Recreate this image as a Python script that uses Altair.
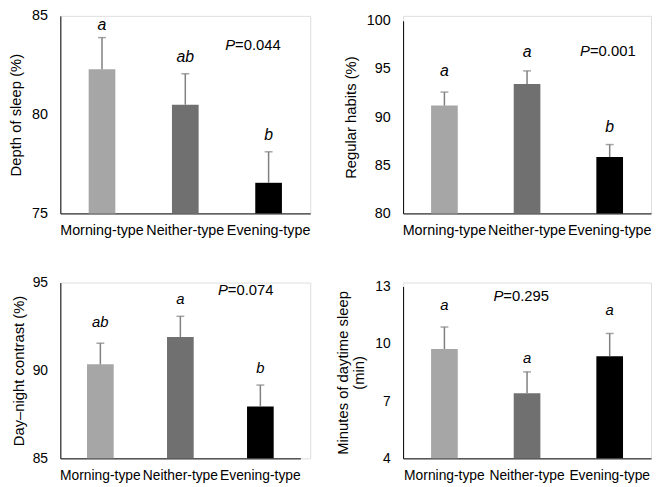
import altair as alt
import pandas as pd

groups = ["Morning-type", "Neither-type", "Evening-type"]
bar_colors = ["#a6a6a6", "#707070", "#000000"]

# Panel 1: Depth of sleep (%)
depth_mean = [82.3, 80.5, 76.55]
depth_sd = [1.6, 1.57, 1.57]
depth_letters = ["a", "ab", "b"]
depth_letter_y = [84.27, 82.64, 78.74]
depth_p = "=0.044"

# Panel 2: Regular habits (%)
habits_mean = [91.2, 93.45, 85.85]
habits_sd = [1.4, 1.35, 1.3]
habits_letters = ["a", "a", "b"]
habits_letter_y = [94.31, 96.2, 88.45]
habits_p = "=0.001"

# Panel 3: Day–night contrast (%)
contrast_mean = [90.35, 91.9, 87.95]
contrast_sd = [1.2, 1.18, 1.22]
contrast_letters = ["ab", "a", "b"]
contrast_letter_y = [92.46, 93.78, 89.88]
contrast_p = "=0.074"

# Panel 4: Minutes of daytime sleep (min)
daytime_mean = [9.73, 7.41, 9.35]
daytime_sd = [1.15, 1.12, 1.19]
daytime_letters = ["a", "a", "a"]
daytime_letter_y = [11.75, 9.01, 11.5]
daytime_p = "=0.295"

FONT = "Liberation Sans"


def panel(title, means, sds, letters, letter_y, p_text, p_y, p_cat, p_dx,
          domain, ticks, y_range, x_width, view_w, view_h,
          label_size=14.5, letter_size=16, title_pad=8):
    df = pd.DataFrame({
        "group": groups,
        "mean": means,
        "upper": [m + s for m, s in zip(means, sds)],
        "letter": letters,
        "ly": letter_y,
    })
    pdf = pd.DataFrame({"group": [p_cat], "py": [p_y], "ptxt": [p_text]})

    xscale = alt.Scale(domain=groups, range=[0, x_width], paddingInner=0, paddingOuter=0)
    xaxis = alt.Axis(title=None, labelAngle=0, ticks=False, tickSize=0,
                     domainColor="#000000", domainWidth=1,
                     labelFontSize=label_size, labelPadding=10,
                     labelColor="#000000", labelFont=FONT)
    x = alt.X("group:N", sort=groups, scale=xscale, axis=xaxis)

    yscale = alt.Scale(domain=domain, range=y_range, zero=False, nice=False)
    yaxis = alt.Axis(values=ticks, ticks=False, tickSize=0, grid=False,
                     domainColor="#000000", domainWidth=1,
                     labelFontSize=label_size, labelPadding=13,
                     labelColor="#000000", labelFont=FONT,
                     title=title, titlePadding=title_pad)

    def Y(field):
        return alt.Y(field, scale=yscale, axis=yaxis)

    bars = alt.Chart(df).mark_bar(size=27).encode(
        x=x, y=Y("mean:Q"), y2=alt.datum(domain[0]),
        color=alt.Color("group:N", scale=alt.Scale(domain=groups, range=bar_colors), legend=None),
    )
    err = alt.Chart(df).mark_rule(color="#7f7f7f", strokeWidth=1.5).encode(
        x=x, y=Y("mean:Q"), y2="upper:Q"
    )
    cap = alt.Chart(df).mark_tick(color="#7f7f7f", thickness=1.5, size=8,
                                   orient="horizontal").encode(x=x, y=Y("upper:Q"))
    lett = alt.Chart(df).mark_text(fontStyle="italic", fontSize=letter_size, font=FONT,
                                   baseline="alphabetic", color="#000000").encode(
        x=x, y=Y("ly:Q"), text="letter:N"
    )
    pP = alt.Chart(pdf).mark_text(fontStyle="italic", fontSize=15, font=FONT,
                                  baseline="alphabetic", align="right", dx=p_dx,
                                  color="#000000").encode(
        x=x, y=Y("py:Q"), text=alt.value("P")
    )
    pV = alt.Chart(pdf).mark_text(fontSize=15, font=FONT, baseline="alphabetic",
                                  align="left", dx=p_dx, color="#000000").encode(
        x=x, y=Y("py:Q"), text="ptxt:N"
    )
    return alt.layer(bars, err, cap, lett, pP, pV).properties(width=view_w, height=view_h)


H1 = 200
H2 = 178

p1 = panel("Depth of sleep (%)", depth_mean, depth_sd, depth_letters, depth_letter_y,
           depth_p, 83.29, "Evening-type", -34,
           [75, 85], [75, 80, 85], [H1, 0], 253, 253, H1)
p2 = panel("Regular habits (%)", habits_mean, habits_sd, habits_letters, habits_letter_y,
           habits_p, 96.31, "Evening-type", -20,
           [80, 100], [80, 85, 90, 95, 100], [H1, 5], 251, 251, H1)
p3 = panel("Day\u2013night contrast (%)", contrast_mean, contrast_sd, contrast_letters,
           contrast_letter_y, contrast_p, 94.28, "Evening-type", -33,
           [85, 95], [85, 90, 95], [H2, 0], 243, 253, H2,
           label_size=14, letter_size=15, title_pad=6)
p4 = panel(["Minutes of daytime sleep", "(min)"], daytime_mean, daytime_sd, daytime_letters,
           daytime_letter_y, daytime_p, 12.23, "Neither-type", -24,
           [4, 13], [4, 7, 10, 13], [H2, 4], 251, 251, H2,
           label_size=14, letter_size=15)

chart = alt.concat(p1, p2, p3, p4, columns=2,
                   spacing={"row": 70, "column": 94}, bounds="flush").properties(
    padding={"left": 0, "top": -4, "right": 0, "bottom": 0}
).configure_view(stroke=None).configure(font=FONT).configure_axis(
    titleFont=FONT, titleFontSize=15, titleFontWeight="normal", titleColor="#000000",
    titleLineHeight=17
)

chart.save("out.html", embed_options={"renderer": "svg", "actions": False})
